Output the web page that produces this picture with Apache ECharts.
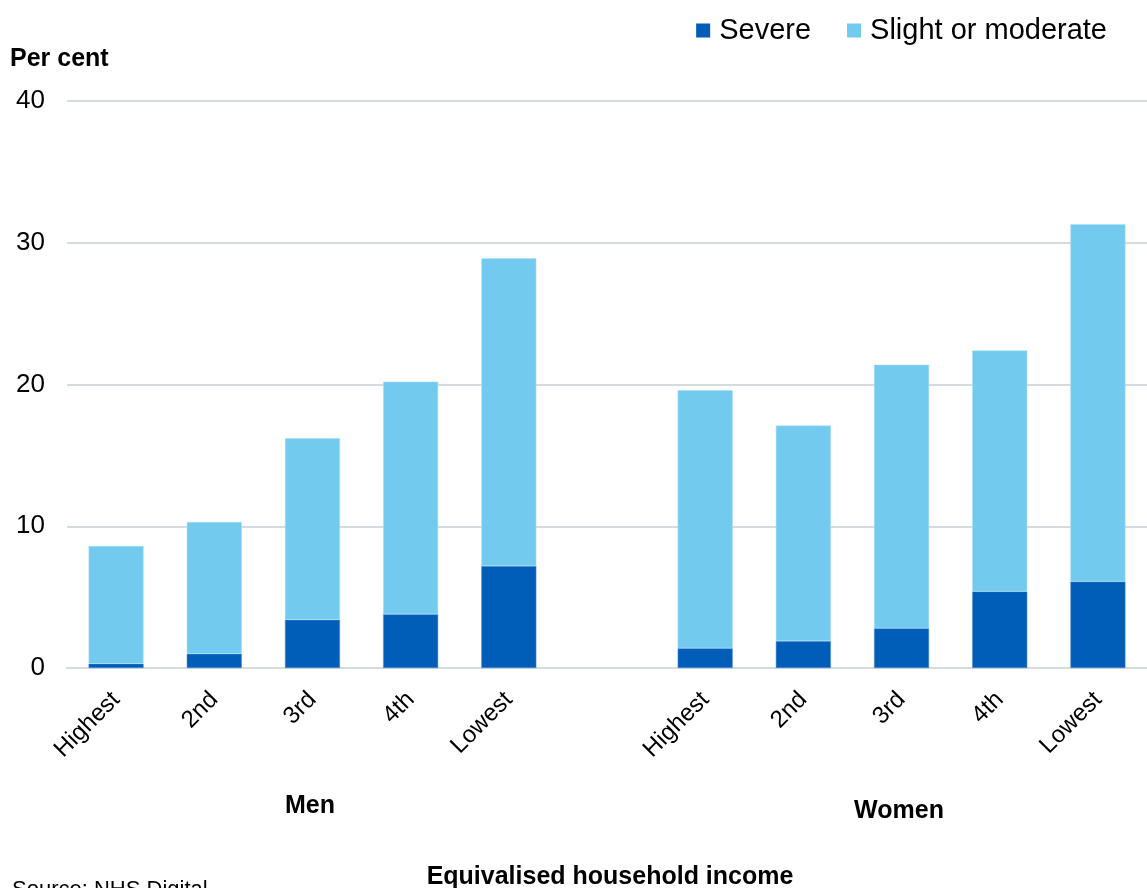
<!DOCTYPE html>
<html>
<head>
<meta charset="utf-8">
<script src="https://cdn.jsdelivr.net/npm/echarts@6/dist/echarts.min.js"></script>
<style>
  html, body { margin: 0; padding: 0; background: #fff; }
  #chart { width: 1147px; height: 888px; }
</style>
</head>
<body>
<div id="chart"></div>
<script>
// income fifths, shown for men then women
const incomeGroups = ['Highest', '2nd', '3rd', '4th', 'Lowest'];
const menSevere = [0.3, 1.0, 3.4, 3.8, 7.2];
const menSlight = [8.3, 9.3, 12.8, 16.4, 21.7];
const womenSevere = [1.4, 1.9, 2.8, 5.4, 6.1];
const womenSlight = [18.2, 15.2, 18.6, 17.0, 25.2];
const yTicks = [0, 10, 20, 30, 40];

// one blank slot between the two groups
const categories = incomeGroups.concat([''], incomeGroups);
const severeData = menSevere.concat([null], womenSevere);
const slightData = menSlight.concat([null], womenSlight);

const chart = echarts.init(document.getElementById('chart'));
const font = '"Liberation Sans", Arial, sans-serif';
const boldText = { fontFamily: font, fontSize: 25, fontWeight: 'bold', color: '#000' };

const option = {
  animation: false,
  textStyle: { fontFamily: font },
  title: [
    { text: 'Per cent', left: 5, top: 42, textStyle: boldText },
    { text: 'Men', left: 305, top: 789, textAlign: 'center', textStyle: boldText },
    { text: 'Women', left: 894, top: 794, textAlign: 'center', textStyle: boldText },
    { text: 'Equivalised household income', left: 605, top: 860, textAlign: 'center', textStyle: boldText },
    { text: 'Source: NHS Digital', left: 7, top: 874, textStyle: { fontFamily: font, fontSize: 22, fontWeight: 'normal', color: '#000' } }
  ],
  legend: {
    right: 35,
    top: 11,
    icon: 'rect',
    itemWidth: 14,
    itemHeight: 14,
    itemGap: 36,
    itemStyle: { borderWidth: 0 },
    textStyle: { fontFamily: font, fontSize: 29, color: '#000', padding: [0, 0, 0, 4] },
    data: ['Severe', 'Slight or moderate']
  },
  grid: { left: 67, top: 101, width: 1088, height: 567 },
  xAxis: {
    type: 'category',
    data: categories,
    axisTick: { show: false },
    axisLine: { lineStyle: { color: '#d6dbe0', width: 2 } },
    axisLabel: { rotate: 45, margin: 28, fontSize: 24, color: '#000', interval: 0, fontFamily: font }
  },
  yAxis: {
    type: 'value',
    min: yTicks[0],
    max: yTicks[yTicks.length - 1],
    interval: 10,
    axisLine: { show: false },
    axisTick: { show: false },
    axisLabel: { fontSize: 26, color: '#000', margin: 22, fontFamily: font },
    splitLine: { lineStyle: { color: '#d6dbe0', width: 2 } }
  },
  series: [
    {
      name: 'Severe',
      type: 'bar',
      stack: 'total',
      barWidth: 55,
      itemStyle: { color: '#005eb8', borderColor: '#4f8fd0', borderWidth: 0.5 },
      data: severeData
    },
    {
      name: 'Slight or moderate',
      type: 'bar',
      stack: 'total',
      barWidth: 55,
      itemStyle: { color: '#72cbef', borderColor: '#a9e0f7', borderWidth: 0.5 },
      data: slightData
    }
  ]
};

chart.setOption(option);
</script>
</body>
</html>
